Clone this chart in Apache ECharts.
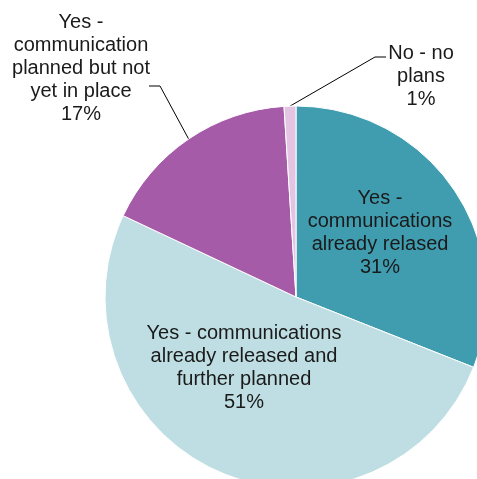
<!DOCTYPE html>
<html>
<head>
<meta charset="utf-8">
<script src="https://cdn.jsdelivr.net/npm/echarts@6/dist/echarts.min.js"></script>
<style>
  html, body { margin: 0; padding: 0; background: #fff; }
  #chart { width: 477px; height: 479px; }
</style>
</head>
<body>
<div id="chart"></div>
<script>
// Survey answers, clockwise from 12 o'clock
const categories = [
  'Yes -\ncommunications\nalready relased',
  'Yes - communications\nalready released and\nfurther planned',
  'Yes -\ncommunication\nplanned but not\nyet in place',
  'No - no\nplans'
];
const shares = [31, 51, 17, 1];
const colors = ['#409DB0', '#BEDEE3', '#A65BA8', '#E3C5E3'];

const chart = echarts.init(document.getElementById('chart'), null, { renderer: 'canvas' });

// Where each label block sits (centre), and the elbow of the leader line for outside labels
const labelSpots = [
  { x: 380, y: 233 },
  { x: 244, y: 368 },
  { x: 81, y: 68, elbow: [160, 86], end: [149, 86] },
  { x: 421, y: 76, elbow: [375, 57], end: [386, 57] }
];

chart.setOption({
  animation: false,
  series: [{
    type: 'pie',
    center: [296, 297],
    radius: 191,
    startAngle: 90,
    clockwise: true,
    avoidLabelOverlap: false,
    data: categories.map((name, i) => ({
      name: name,
      value: shares[i],
      itemStyle: { color: colors[i] },
      label: { position: i < 2 ? 'inside' : 'outside' },
      labelLine: { show: i >= 2 }
    })),
    itemStyle: { borderColor: '#fff', borderWidth: 1 },
    label: {
      formatter: '{b}\n{c}%',
      fontFamily: 'Liberation Sans, Arial, sans-serif',
      fontSize: 20,
      lineHeight: 23,
      color: '#1a1a1a',
      align: 'center'
    },
    labelLine: {
      lineStyle: { color: '#000', width: 1 }
    },
    labelLayout: function (params) {
      const s = labelSpots[params.dataIndex];
      const out = { x: s.x, y: s.y, align: 'center', verticalAlign: 'middle' };
      if (s.elbow && params.labelLinePoints) {
        out.labelLinePoints = [params.labelLinePoints[0], s.elbow, s.end];
      }
      return out;
    }
  }]
});
</script>
</body>
</html>
